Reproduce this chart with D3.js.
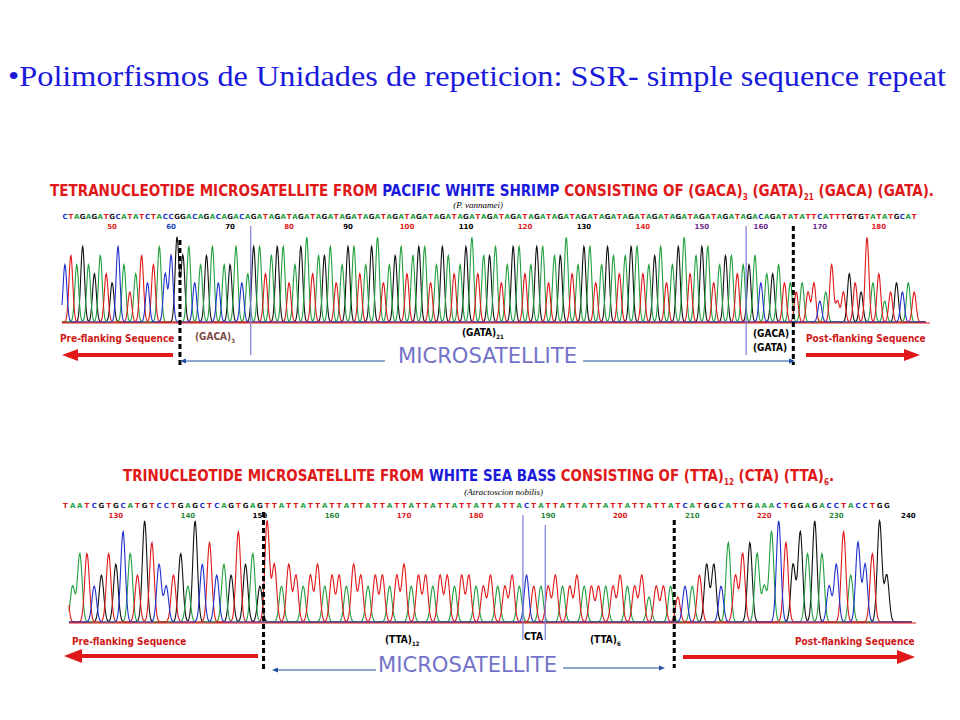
<!DOCTYPE html>
<html>
<head>
<meta charset="utf-8">
<style>
body { margin: 0; background: #fff; }
.seq text { font: bold 7px "DejaVu Sans"; text-anchor: middle; }
.tick text { font: bold 7px "DejaVu Sans"; text-anchor: middle; }
.ptitle { font: bold 15px "DejaVu Sans Condensed", "DejaVu Sans"; }
.ann { font: bold 10px "DejaVu Sans Condensed", "DejaVu Sans"; }
.micro { font: 21px "DejaVu Sans Condensed", "DejaVu Sans"; fill: #7373c8; }
</style>
<script src="https://d3js.org/d3.v7.min.js"></script>
</head>
<body>
<svg width="960" height="720"></svg>
<script>
// top panel: P. vannamei, (GACA)3 (GATA)21 (GACA) (GATA)
var topSeq = "CTAGAGATGCATATCTACCG" + "GACAGACAGACA" +
  "GATAGATAGATAGATAGATAGATAGATAGATAGATAGATAGATAGATAGATAGATAGATAGATAGATAGATAGATAGATAGATA" +
  "GACA" + "GATA" + "TATTCATTTGTGTATATGCAT";
var topStart = 42;
// peak heights 0-9, one per base
var topH = "6768657548635746857" + "9" + "784678466845" +
  "8857" + "8846" + "8957" + "7846" + "8856" + "8946" + "7857" + "8846" + "8756" + "8957" +
  "7846" + "8856" + "8847" + "7956" + "8846" + "8757" + "8856" + "7846" + "8957" + "8846" + "7756" +
  "6745" + "5644" + "3434236235439452343434";
var topTicks = [50, 60, 70, 80, 90, 100, 110, 120, 130, 140, 150, 160, 170, 180];
var topTickCol = ["#e02020", "#2040c0", "#000", "#e02020", "#000", "#e02020", "#000",
  "#e02020", "#000", "#e02020", "#6a2a90", "#6a2a90", "#6a2a90", "#e02020"];

// bottom panel: white sea bass, (TTA)12 (CTA) (TTA)6
var botSeq = "TAATCGTGCATGTCCTGAGCTCAGTGAG" +
  "TTATTATTATTATTATTATTATTATTATTATTATTA" + "CTA" + "TTATTATTATTATTATTA" +
  "TCATGGCATTGAAACTGGAGACCTACCTGG";
var botStart = 123;
var botH = "5366346586497534639574548563" +
  "953" + "543" + "453" + "443" + "543" + "443" + "453" + "443" + "443" + "443" + "343" + "343" +
  "433" + "343" + "343" + "333" + "343" + "342" + "333" +
  "233455374676389758696358475694";
var botTicks = [130, 140, 150, 160, 170, 180, 190, 200, 210, 220, 230, 240];
var botTickCol = ["#e02020", "#2a8a3a", "#000", "#2a8a3a", "#e02020", "#e02020", "#2a8a3a",
  "#e02020", "#2a8a3a", "#e02020", "#2a8a3a", "#000"];

var baseCol = { A: "#22a040", C: "#2030d0", G: "#111", T: "#e01818" };

var svg = d3.select("svg");

svg.append("text").attr("x", 8).attr("y", 86)
  .attr("textLength", 938).attr("lengthAdjust", "spacingAndGlyphs")
  .style("font", "30px 'Liberation Serif'").attr("fill", "#1a1adc")
  .text("\u2022Polimorfismos de Unidades de repeticion:  SSR- simple sequence repeat");

function panel(o) {
  var x = d3.scaleLinear().domain([o.b0, o.b1]).range([o.x0, o.x1]);
  var y = d3.scaleLinear().domain([0, 9]).range([o.base, o.top]);
  var g = svg.append("g");

  // title with subscripts
  var t = g.append("text").attr("class", "ptitle").attr("x", o.tx).attr("y", o.ty)
    .attr("textLength", o.tw).attr("lengthAdjust", "spacingAndGlyphs");
  o.title.forEach(function(p) {
    var s = t.append("tspan").attr("fill", p[1]).text(p[0]);
    if (p[2]) s.attr("font-size", 8).attr("dy", 4);
    if (p[3]) s.attr("dy", -4);
  });
  g.append("text").attr("x", o.sx).attr("y", o.sy).attr("text-anchor", "end")
    .style("font", "italic 9px 'Liberation Serif'").text(o.species);

  // base calls
  var seq = o.seq.split("");
  g.append("g").attr("class", "seq").selectAll("text").data(seq).enter().append("text")
    .attr("x", function(d, i) { return x(o.start + i); })
    .attr("y", o.ly)
    .attr("fill", function(d) { return baseCol[d]; })
    .text(function(d) { return d; });
  g.append("g").attr("class", "tick").selectAll("text").data(o.ticks).enter().append("text")
    .attr("x", function(d) { return x(d); }).attr("y", o.ly + 10)
    .attr("fill", function(d, i) { return o.tcol[i]; })
    .text(function(d) { return d; });

  // traces, one per channel
  var step = 0.08, sig = 0.32;
  ["G", "A", "T", "C"].forEach(function(b) {
    var pts = [];
    for (var u = o.b0; u <= o.b1; u += step) {
      var v = 0;
      for (var i = Math.max(0, Math.floor(u - o.start) - 3); i < Math.min(seq.length, Math.floor(u - o.start) + 4); i++) {
        if (seq[i] !== b) continue;
        var dd = u - (o.start + i);
        v += (+o.h[i] + 0.3) * Math.exp(-dd * dd / (2 * sig * sig));
      }
      pts.push([u, Math.min(v, 9.6)]);
    }
    g.append("path").datum(pts).attr("fill", "none").attr("stroke", baseCol[b])
      .attr("stroke-width", 1.1)
      .attr("d", d3.line().x(function(d) { return x(d[0]); }).y(function(d) { return y(d[1]); }));
  });
  g.append("line").attr("x1", o.x0).attr("x2", o.x1 + 4).attr("y1", o.base + 1).attr("y2", o.base + 1)
    .attr("stroke", "#e01818").attr("stroke-width", 1.2);

  // region markers
  o.dash.forEach(function(d) {
    g.append("line").attr("x1", x(d[0])).attr("x2", x(d[0])).attr("y1", d[1]).attr("y2", d[2])
      .attr("stroke", "#000").attr("stroke-width", 3).attr("stroke-dasharray", "5,3");
  });
  o.blue.forEach(function(d) {
    g.append("line").attr("x1", x(d[0])).attr("x2", x(d[0])).attr("y1", d[1]).attr("y2", d[2])
      .attr("stroke", "#7a7ae0").attr("stroke-width", 1.2);
  });

  function arrow(x1, x2, yy, col, w, hw, hl) {
    var dir = x2 > x1 ? 1 : -1;
    g.append("line").attr("x1", x1).attr("x2", x2 - dir * hl).attr("y1", yy).attr("y2", yy)
      .attr("stroke", col).attr("stroke-width", w);
    g.append("path").attr("fill", col)
      .attr("d", "M" + x2 + "," + yy + "L" + (x2 - dir * hl) + "," + (yy - hw) + "L" + (x2 - dir * hl) + "," + (yy + hw) + "Z");
  }
  o.arrows.forEach(function(a) { arrow(a[0], a[1], a[2], a[3], a[4], a[5], a[6]); });

  o.labels.forEach(function(l) {
    var tx = g.append("text").attr("class", "ann").attr("x", l[0]).attr("y", l[1]).attr("fill", l[3]);
    if (l[4]) tx.attr("font-size", l[4]);
    tx.append("tspan").text(l[2]);
    if (l[5]) tx.append("tspan").attr("font-size", 6).attr("dy", 3).text(l[5]);
  });
  g.append("text").attr("class", "micro").attr("x", o.mx).attr("y", o.my)
    .attr("textLength", 179).attr("lengthAdjust", "spacingAndGlyphs").text("MICROSATELLITE");
}

panel({
  seq: topSeq, start: topStart, h: topH, ticks: topTicks, tcol: topTickCol,
  b0: 41.5, b1: 188, x0: 62, x1: 926, base: 322, top: 240,
  tx: 50, ty: 196, tw: 884, sx: 503, sy: 208, ly: 219,
  species: "(P. vannamei)",
  title: [["TETRANUCLEOTIDE MICROSATELLITE FROM ", "#e01818"], ["PACIFIC WHITE SHRIMP ", "#1a1adc"],
    ["CONSISTING OF (GACA)", "#e01818"], ["3", "#e01818", 1], [" (GATA)", "#e01818", 0, 1],
    ["21", "#e01818", 1], [" (GACA) (GATA).", "#e01818", 0, 1]],
  dash: [[61.5, 240, 365], [165.5, 226, 365]],
  blue: [[73.5, 226, 355], [157.5, 226, 355]],
  arrows: [[173, 62, 355, "#e01818", 4, 6, 16], [806, 920, 355, "#e01818", 4, 6, 16],
    [385, 180, 361, "#2050a0", 1.2, 2.5, 6], [583, 795, 361, "#2050a0", 1.2, 2.5, 6]],
  labels: [[60, 342, "Pre-flanking Sequence", "#d01818"], [195, 340, "(GACA)", "#7a4a40", 0, "3"],
    [462, 336, "(GATA)", "#000", 0, "21"], [753, 337, "(GACA)", "#000"], [753, 351, "(GATA)", "#000"],
    [806, 342, "Post-flanking Sequence", "#d01818"]],
  mx: 398, my: 363
});

panel({
  seq: botSeq, start: botStart, h: botH, ticks: botTicks, tcol: botTickCol,
  b0: 123.5, b1: 240.5, x0: 69, x1: 912, base: 622, top: 524,
  tx: 123, ty: 481, tw: 711, sx: 543, sy: 495, ly: 508,
  species: "(Atractoscion nobilis)",
  title: [["TRINUCLEOTIDE MICROSATELLITE FROM ", "#e01818"], ["WHITE SEA BASS ", "#1a1adc"],
    ["CONSISTING OF (TTA)", "#e01818"], ["12", "#e01818", 1], [" (CTA) (TTA)", "#e01818", 0, 1],
    ["6", "#e01818", 1], [".", "#e01818", 0, 1]],
  dash: [[150.5, 512, 672], [207.5, 520, 668]],
  blue: [[186.5, 515, 640], [189.6, 525, 640]],
  arrows: [[258, 64, 656, "#e01818", 4, 7, 18], [683, 915, 657, "#e01818", 4, 7, 18],
    [376, 272, 670, "#2050a0", 1.2, 2.5, 6], [563, 665, 668, "#2050a0", 1.2, 2.5, 6]],
  labels: [[72, 645, "Pre-flanking Sequence", "#d01818"], [385, 643, "(TTA)", "#000", 0, "12"],
    [524, 640, "CTA", "#000", 6], [590, 643, "(TTA)", "#000", 0, "6"],
    [795, 645, "Post-flanking Sequence", "#d01818"]],
  mx: 378, my: 672
});
</script>
</body>
</html>
